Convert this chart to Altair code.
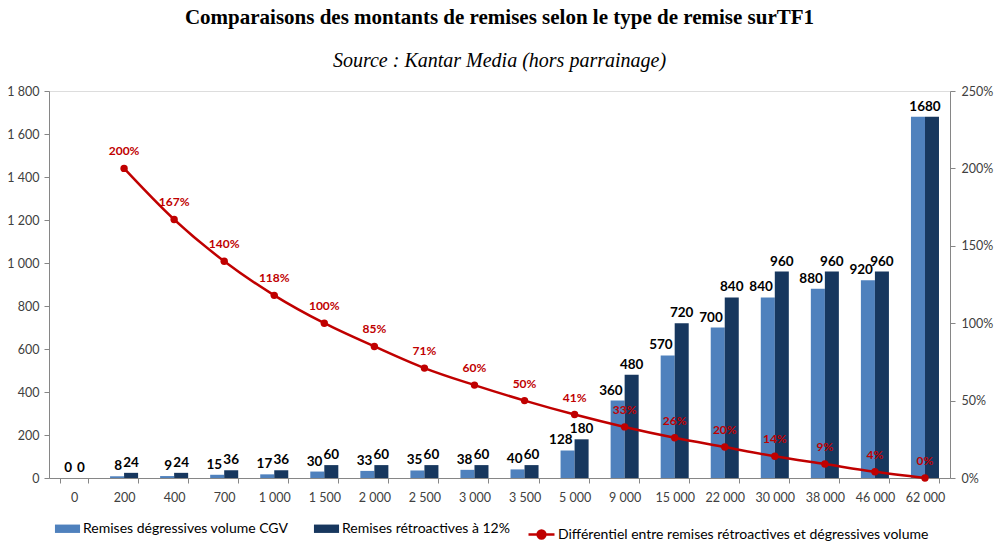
import altair as alt
import pandas as pd

categories = ["0", "200", "400", "700", "1 000", "1 500", "2 000", "2 500", "3 000",
              "3 500", "5 000", "9 000", "15 000", "22 000", "30 000", "38 000", "46 000", "62 000"]
degressives = [0, 8, 9, 15, 17, 30, 33, 35, 38, 40, 128, 360, 570, 700, 840, 880, 920, 1680]
retroactives = [0, 24, 24, 36, 36, 60, 60, 60, 60, 60, 180, 480, 720, 840, 960, 960, 960, 1680]
differentiel = [None, 200, 167, 140, 118, 100, 85, 71, 60, 50, 41, 33, 26, 20, 14, 9, 4, 0]

series_names = ["Remises dégressives volume CGV", "Remises rétroactives à 12%"]
line_name = "Différentiel entre remises rétroactives et dégressives volume"
bar_colors = ["#4F81BD", "#17375E"]
red = "#C00000"
font = "Lato"

rows = []
for c, a, b in zip(categories, degressives, retroactives):
    same = (a == b and a > 0)
    rows.append({"cat": c, "serie": series_names[0], "value": a, "same": same})
    rows.append({"cat": c, "serie": series_names[1], "value": b, "same": same})
long = pd.DataFrame(rows)
wide = pd.DataFrame({"cat": categories, "deg": degressives, "retro": retroactives,
                     "pct": differentiel, "name": line_name})

x_enc = alt.X("cat:N", sort=categories,
              scale=alt.Scale(paddingInner=0.44, paddingOuter=0.22),
              axis=alt.Axis(title=None, labelAngle=0, tickBand="extent", tickSize=5,
                            labelPadding=8, domainColor="#868686", tickColor="#868686",
                            labelColor="#404040", labelFont=font, labelFontSize=12.5))
y_left = alt.Y("value:Q", scale=alt.Scale(domain=[0, 1800], nice=False),
               axis=alt.Axis(title=None, values=list(range(0, 1801, 200)), grid=False,
                             labelExpr="replace(format(datum.value, ','), ',', ' ')",
                             tickSize=5, labelPadding=5, domainColor="#868686",
                             tickColor="#868686", labelColor="#404040", labelFont=font,
                             labelFontSize=12.5))
xoff = alt.XOffset("serie:N", sort=series_names)

bars = alt.Chart(long).mark_bar().encode(
    x=x_enc, xOffset=xoff, y=y_left,
    color=alt.Color("serie:N", sort=series_names,
                    scale=alt.Scale(domain=series_names, range=bar_colors),
                    legend=alt.Legend(title=None, orient="none", direction="horizontal",
                                      legendX=10, legendY=429, columnPadding=24,
                                      labelOffset=7,
                                      symbolType="M-1.5,-0.5H1.5V0.5H-1.5Z", symbolSize=280,
                                      symbolStrokeWidth=0, labelFont=font, labelFontSize=14,
                                      labelColor="#000000", labelLimit=400)))

label_style = dict(fontWeight="bold", fontSize=13.5, font=font, color="black")
light_labels = alt.Chart(long).transform_filter(
    f"!datum.same && datum.serie == '{series_names[0]}'").mark_text(
    dy=-10, dx=5, align="right", **label_style).encode(
    x=x_enc, xOffset=xoff, y=y_left, text="value:Q")
dark_labels = alt.Chart(long).transform_filter(
    f"!datum.same && datum.serie == '{series_names[1]}'").mark_text(
    dy=-10, align="center", **label_style).encode(
    x=x_enc, xOffset=xoff, y=y_left, text="value:Q")

same_labels = alt.Chart(wide).transform_filter("datum.deg == datum.retro && datum.deg > 0").mark_text(
    dy=-10, **label_style).encode(
    x=x_enc, y=alt.Y("retro:Q", scale=alt.Scale(domain=[0, 1800], nice=False)), text="retro:Q")

y_right = alt.Y("pct:Q", scale=alt.Scale(domain=[0, 250], nice=False),
                axis=alt.Axis(title=None, orient="right", values=[0, 50, 100, 150, 200, 250],
                              labelExpr="datum.value + '%'", grid=False, tickSize=5,
                              labelPadding=6, domainColor="#868686", tickColor="#868686",
                              labelColor="#404040", labelFont=font, labelFontSize=12.5))

line_data = alt.Chart(wide).transform_filter("datum.pct != null")
line = line_data.mark_line(color=red, strokeWidth=2.5, interpolate="monotone").encode(
    x=x_enc, y=y_right)
points = line_data.mark_point(filled=True, size=55, opacity=1).encode(
    x=x_enc, y=y_right,
    color=alt.Color("name:N", scale=alt.Scale(domain=[line_name], range=[red]),
                    legend=alt.Legend(title=None, orient="none", legendX=478, legendY=429,
                                      symbolType="M-1,0H1M0.3,0A0.3,0.3 0 1,1 -0.3,0A0.3,0.3 0 1,1 0.3,0",
                                      symbolSize=676, symbolStrokeWidth=2.5, labelOffset=2,
                                      symbolStrokeColor=red, symbolFillColor=red,
                                      labelFont=font, labelFontSize=14, labelColor="#000000",
                                      labelLimit=500)))
pct_labels = line_data.mark_text(dy=-17, fontWeight="bold", fontSize=12, font=font,
                                 color=red).encode(
    x=x_enc, y=y_right, text=alt.Text("label:N")).transform_calculate(
    label="datum.pct + '%'")

bar_group = alt.layer(bars, light_labels, dark_labels, same_labels)
line_group = alt.layer(line, points, pct_labels)

chart = alt.layer(bar_group, line_group).resolve_scale(
    y="independent", color="independent"
).properties(
    width=901, height=387,
    autosize=alt.AutoSizeParams(type="none"),
    padding={"left": 49, "top": 91, "right": 44, "bottom": 71},
    title=alt.Title("Comparaisons des montants de remises selon le type de remise surTF1",
                    subtitle="Source : Kantar Media (hors parrainage)",
                    anchor="middle", font="Liberation Serif", fontSize=21, fontWeight="bold",
                    color="black", subtitleFont="Liberation Serif", subtitleFontSize=20,
                    subtitleFontStyle="italic", subtitleColor="black", subtitlePadding=23,
                    offset=14)
).configure_view(stroke=None).configure(background="white")

chart.save("out.html", embed_options={"renderer": "svg", "actions": False})
